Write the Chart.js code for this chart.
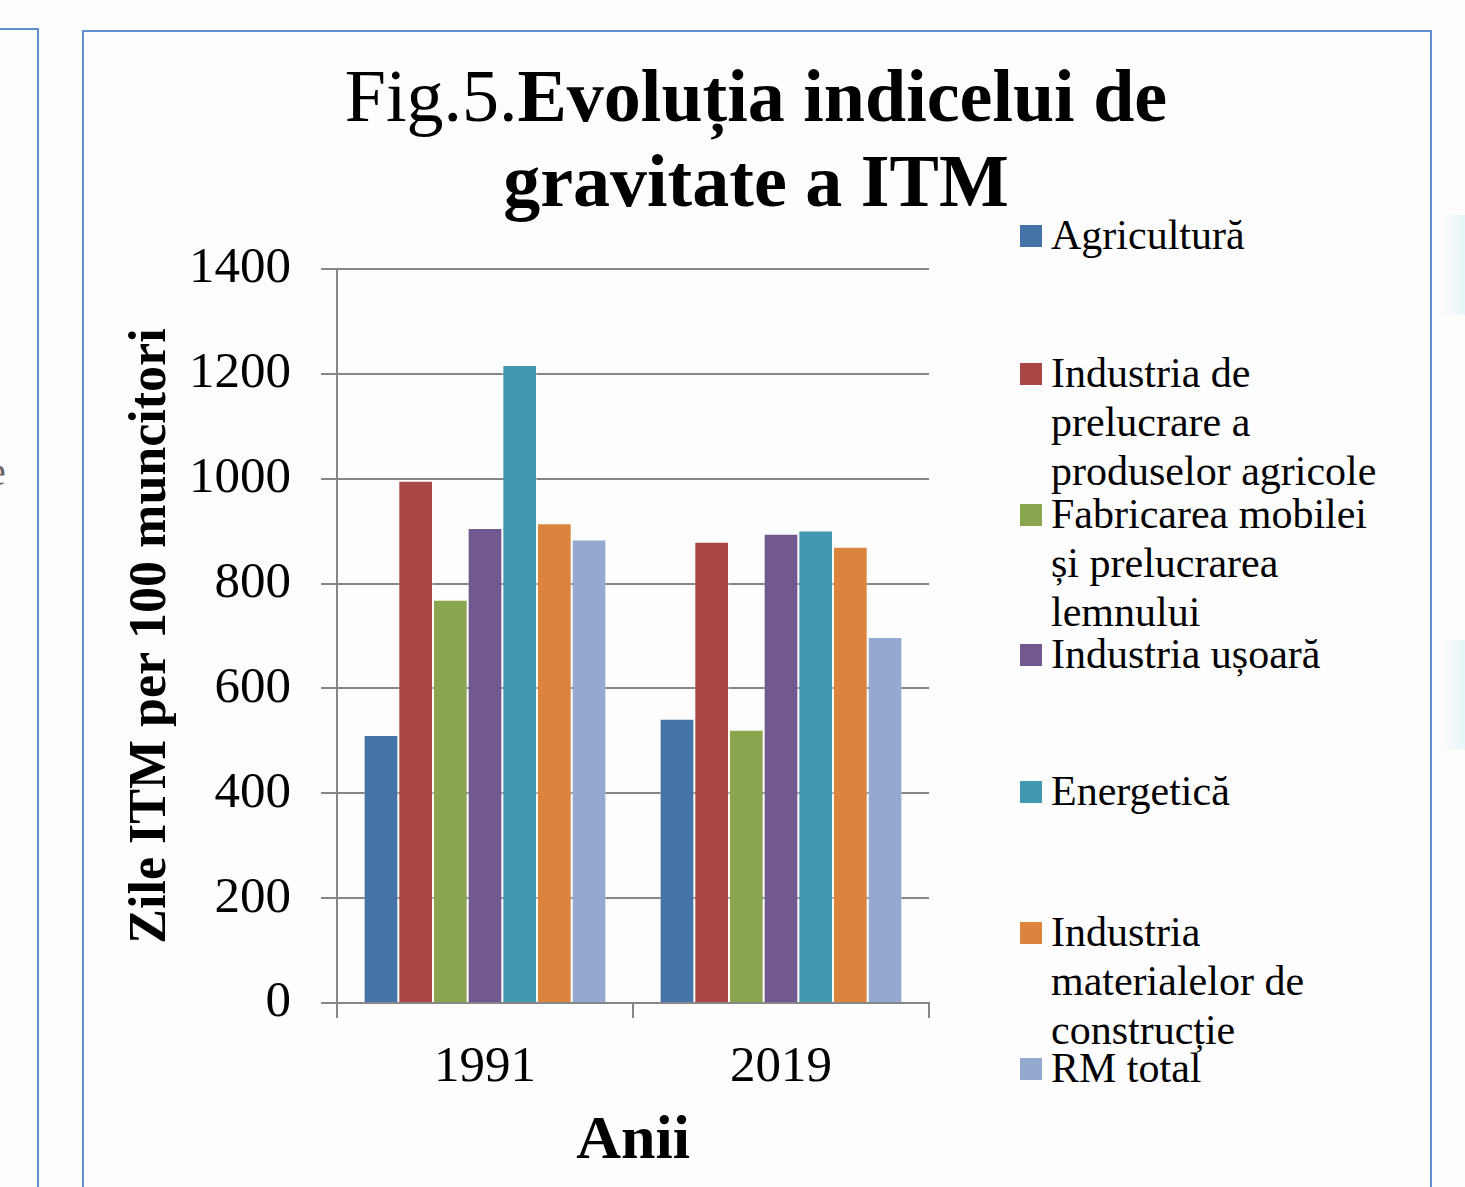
<!DOCTYPE html>
<html>
<head>
<meta charset="utf-8">
<script src="https://cdn.jsdelivr.net/npm/chart.js@4"></script>
<style>
  html, body { margin: 0; padding: 0; background: #fdfdfd; width: 1465px; height: 1187px; overflow: hidden; }
  body { position: relative; font-family: "Liberation Serif", "Times New Roman", serif; color: #000; }
  .frame-left { position: absolute; left: -2px; top: 28px; width: 39px; height: 1200px; border: 2px solid #5e8fd0; border-left: none; }
  .stray { position: absolute; left: -12px; top: 448px; font-size: 40px; color: #666; }
  .frame-main { position: absolute; left: 82px; top: 30px; width: 1346px; height: 1200px; border: 2px solid #5e8fd0; background: #fdfdfd; }
  .title { position: absolute; left: 300px; width: 912px; top: 54px; text-align: center; font-size: 74px; line-height: 85px; font-weight: bold; }
  .title .reg { font-weight: normal; }
  #chartBox { position: absolute; left: 120px; top: 230px; width: 827px; height: 957px; }
  .legend { position: absolute; left: 1020px; top: 0; }
  .legend-item { position: absolute; left: 0; width: 400px; font-size: 42px; line-height: 49px; }
  .legend-item .sw { position: absolute; left: 0; top: 14px; width: 22px; height: 22px; }
  .legend-item .txt { position: absolute; left: 31px; top: 0; white-space: nowrap; }
  .ghost { position: absolute; left: 1440px; width: 26px; background: linear-gradient(90deg, rgba(225,242,248,0), rgba(215,238,245,0.6)); }
</style>
</head>
<body>
<div class="frame-left"></div>
<div class="stray">e</div>
<div class="frame-main"></div>
<div class="ghost" style="top:215px;height:100px"></div>
<div class="ghost" style="top:640px;height:110px"></div>
<div class="title"><span class="reg">Fig.5.</span>Evoluția indicelui de<br>gravitate a ITM</div>
<div id="chartBox"><canvas id="barChart" width="827" height="957"></canvas></div>
<div class="legend" id="legend"></div>

<script>
// ── Data ──────────────────────────────────────────────────────
const YEARS = ["1991", "2019"];
const SECTORS = [
    "Agricultură",
    "Industria de prelucrare a produselor agricole",
    "Fabricarea mobilei și prelucrarea lemnului",
    "Industria ușoară",
    "Energetică",
    "Industria materialelor de construcție",
    "RM total"
];
// legend lines as they wrap in the original
const LEGEND_LINES = [
    ["Agricultură"],
    ["Industria de", "prelucrare a", "produselor agricole"],
    ["Fabricarea mobilei", "și prelucrarea", "lemnului"],
    ["Industria ușoară"],
    ["Energetică"],
    ["Industria", "materialelor de", "construcție"],
    ["RM total"]
];
const VALUES_1991 = [511, 996, 769, 906, 1217, 915, 884];
const VALUES_2019 = [542, 880, 521, 895, 901, 870, 698];
const COLORS = ["#4572a7", "#aa4643", "#89a54e", "#71588f", "#4198af", "#db843d", "#93a9cf"];
const Y_TICKS = [0, 200, 400, 600, 800, 1000, 1200, 1400];

// ── Legend (HTML, wraps like the original) ────────────────────
const LEGEND_TOPS = [211, 349, 490, 630, 767, 908, 1044];
function renderLegend() {
    const box = document.getElementById("legend");
    SECTORS.forEach((s, i) => {
        const item = document.createElement("div");
        item.className = "legend-item";
        item.style.top = LEGEND_TOPS[i] + "px";
        const sw = document.createElement("span");
        sw.className = "sw";
        sw.style.background = COLORS[i];
        const txt = document.createElement("span");
        txt.className = "txt";
        txt.innerHTML = LEGEND_LINES[i].join("<br>");
        item.appendChild(sw);
        item.appendChild(txt);
        box.appendChild(item);
    });
}

// ── Chart ─────────────────────────────────────────────────────
function renderChart() {
    const FONT = "'Liberation Serif', 'Times New Roman', serif";
    const datasets = SECTORS.map((s, i) => ({
        label: s,
        data: [VALUES_1991[i], VALUES_2019[i]],
        backgroundColor: COLORS[i],
        borderColor: "rgba(255,255,255,0.35)",
        borderWidth: 1,
        categoryPercentage: 0.82,
        barPercentage: 1.0
    }));

    new Chart(document.getElementById("barChart"), {
        type: "bar",
        data: { labels: YEARS, datasets },
        options: {
            responsive: false,
            animation: false,
            layout: { padding: { top: 39, right: 18, left: 0, bottom: 0 } },
            plugins: {
                legend: { display: false },
                tooltip: { enabled: false }
            },
            scales: {
                x: {
                    afterFit: s => { s.height = 184; s.paddingLeft = 0; s.paddingRight = 0; },
                    grid: { drawOnChartArea: false, drawTicks: true, tickLength: 15, color: "#868686", lineWidth: 2, offset: true },
                    border: { color: "#868686", width: 2 },
                    ticks: { color: "#000", padding: 19, font: { family: FONT, size: 51 } },
                    title: { display: true, text: "Anii", color: "#000", padding: { top: 0, bottom: 8 },
                             font: { family: FONT, size: 62, weight: "bold" } }
                },
                y: {
                    min: 0, max: 1400,
                    afterFit: s => { s.width = 217; s.paddingTop = 0; s.paddingBottom = 0; },
                    afterBuildTicks: s => { s.ticks = Y_TICKS.map(v => ({ value: v })); },
                    grid: { color: "#868686", lineWidth: 2, tickLength: 16 },
                    border: { color: "#868686", width: 2 },
                    ticks: { color: "#000", padding: 30, font: { family: FONT, size: 51 },
                             callback: v => String(v) },
                    title: { display: true, text: "Zile ITM per 100 muncitori", color: "#000", padding: 0,
                             font: { family: FONT, size: 52, weight: "bold" } }
                }
            }
        }
    });
}

renderLegend();
renderChart();
</script>
</body>
</html>
